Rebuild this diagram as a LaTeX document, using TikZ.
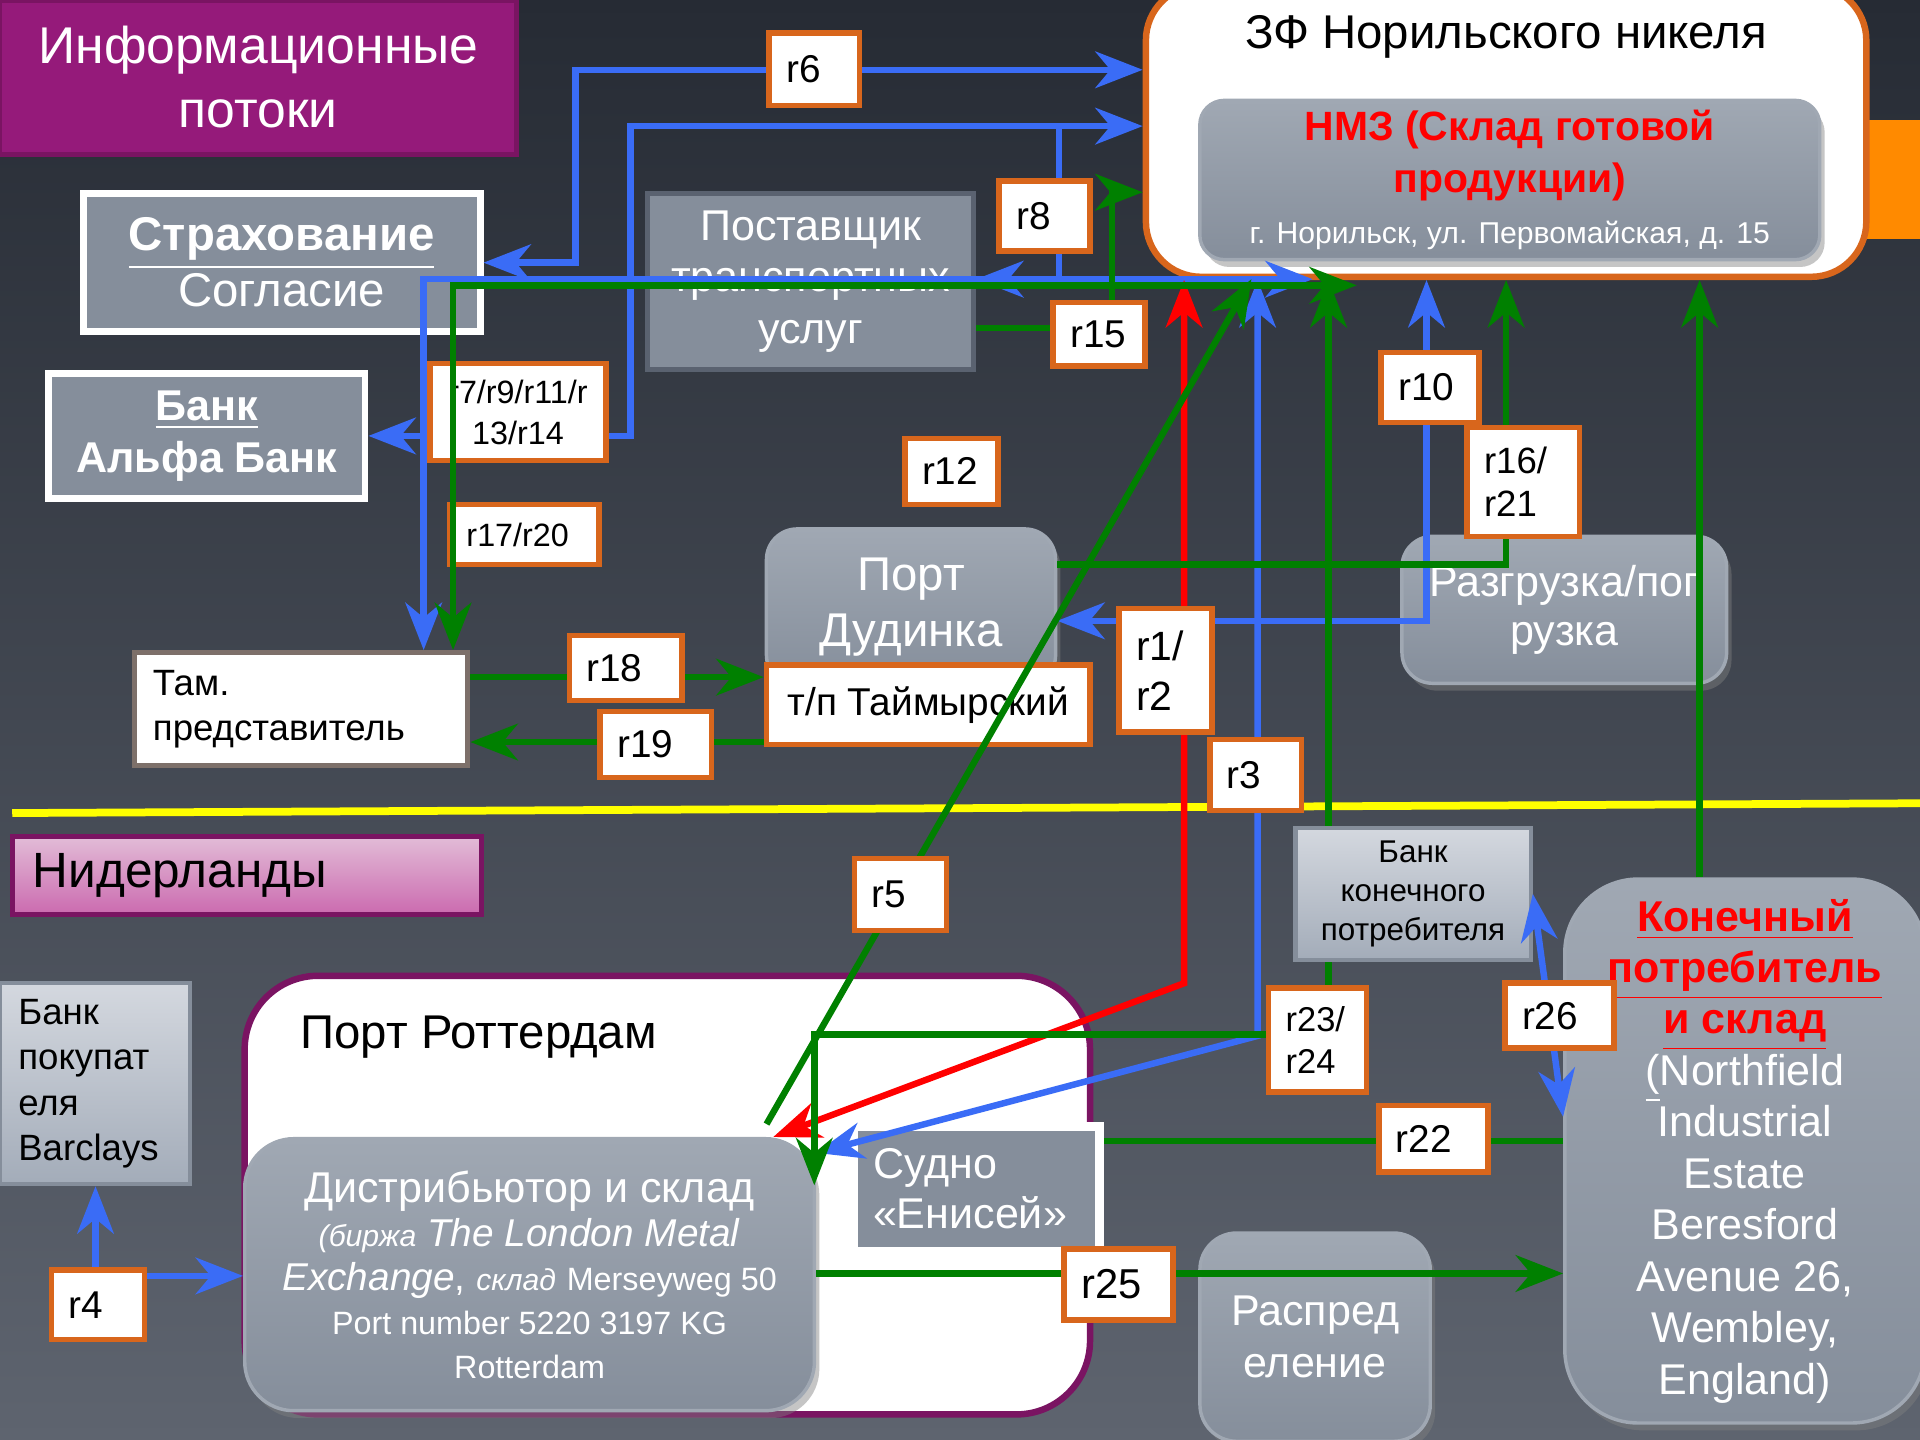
\documentclass[tikz,border=0pt]{standalone}
\usepackage{fontspec}
\setmainfont{Liberation Sans}
\usepackage{tikz}
\usetikzlibrary{arrows.meta, positioning, shadows}
\usepackage{xcolor}

\definecolor{bgtop}{HTML}{262B34}
\definecolor{bgbot}{HTML}{5E646F}
\definecolor{slate}{HTML}{858E9B}
\definecolor{slatehi}{HTML}{A0A8B3}
\definecolor{slateln}{HTML}{5A6270}
\definecolor{pale}{HTML}{D4D8DF}
\definecolor{paledk}{HTML}{A3ACB9}
\definecolor{tagorange}{HTML}{D8661C}
\definecolor{tambrd}{HTML}{7D706A}
\definecolor{infopurple}{HTML}{951A7A}
\definecolor{infoedge}{HTML}{7A1462}
\definecolor{pinkhi}{HTML}{E2BCD7}
\definecolor{pinklo}{HTML}{CB6AAF}
\definecolor{flowblue}{HTML}{3A6CF6}
\definecolor{flowgreen}{HTML}{008000}
\definecolor{flowred}{HTML}{FF0000}
\definecolor{sideorange}{HTML}{FF8A00}
\definecolor{border}{HTML}{FFFF00}

\begin{document}
\begin{tikzpicture}[x=0.01cm, y=-0.01cm, >={Stealth[length=11pt, width=8.5pt, inset=3.5pt]}]

			% Define style for boxes
			\tikzstyle{flatbox} = [rectangle, draw=slateln, line width=1.2pt, fill=slate,
								text=white, align=center, inner sep=0pt]
			\tikzstyle{roundbox} = [rectangle, rounded corners=0.25cm, draw=slatehi, line width=0.8pt,
								top color=slatehi, bottom color=slate, text=white, align=center, inner sep=0pt,
								drop shadow={shadow xshift=0.04cm, shadow yshift=-0.06cm, opacity=0.45}]
			\tikzstyle{palebox} = [rectangle, draw=slate, line width=1pt, top color=pale,
								bottom color=paledk, text=black, inner sep=0pt]
			\tikzstyle{tag} = [rectangle, draw=tagorange, line width=1.3pt, fill=white, text=black,
								inner xsep=0.14cm, inner ysep=0pt, align=left, font=\fontsize{9}{11}\selectfont]

			% Define style for arrows
			\tikzstyle{blueline} = [draw=flowblue, line width=1.5pt]
			\tikzstyle{greenline} = [draw=flowgreen, line width=1.5pt]
			\tikzstyle{redline} = [draw=flowred, line width=1.5pt]

			% Background
			\shade[top color=bgtop, middle color=bgtop, bottom color=bgbot] (0,0) rectangle (1568,1176);
			\useasboundingbox (0,0) rectangle (1568,1176);
			\draw[border, line width=1.8pt] (10,664) -- (1568,656);

			% Place nodes
			\node[rectangle, draw=infoedge, line width=1.2pt, fill=infopurple, text=white, align=center,
				minimum width=4.22cm, minimum height=1.26cm, font=\fontsize{12}{15}\selectfont] (info) at (211,63) {\raisebox{-4pt}{Информационные}\\\raisebox{-4pt}{потоки}};
			\node[flatbox, draw=white, line width=1.6pt, minimum width=3.24cm, minimum height=1.13cm,
				font=\fontsize{11}{13}\selectfont] (strah) at (230,214.5) {\textbf{\underline{Страхование}}\\Согласие};
			\node[flatbox, draw=white, line width=1.6pt, minimum width=2.58cm, minimum height=1.02cm,
				font=\bfseries\fontsize{10}{12}\selectfont] (bankA) at (169,356) {\underline{Банк}\\Альфа Банк};
			\node[flatbox, minimum width=2.66cm, minimum height=1.44cm,
				font=\fontsize{10}{12}\selectfont] (postav) at (662,230) {Поставщик\\транспортных\\услуг};

			\fill[sideorange] (1524,98) rectangle (1568,195);
			\node[rectangle, rounded corners=0.45cm, draw=tagorange, line width=1.5pt, fill=white,
				minimum width=5.88cm, minimum height=2.38cm] (zf) at (1230,107) {};
			\node[font=\fontsize{11}{13}\selectfont, text=black] (zftitle) at (1230,30) {ЗФ Норильского никеля};
			\node[roundbox, rounded corners=0.2cm, minimum width=5.06cm, minimum height=1.30cm,
				font=\fontsize{9.5}{12}\selectfont] (nmz) at (1233,147)
				{\textcolor{flowred}{\bfseries НМЗ (Склад готовой}\\\textcolor{flowred}{\bfseries продукции)}\\{\fontsize{7}{9}\selectfont г. Норильск, ул. Первомайская, д. 15}};

			\node[roundbox, minimum width=2.36cm, minimum height=1.28cm,
				font=\fontsize{11}{13}\selectfont] (dud) at (744,496) {Порт\\Дудинка};
			\node[rectangle, draw=tagorange, line width=1.3pt, fill=white, minimum width=2.64cm, minimum height=0.65cm,
				font=\fontsize{9}{11}\selectfont] (tp) at (758,575.5) {т/п Таймырский};
			\node[roundbox, minimum width=2.65cm, minimum height=1.20cm,
				font=\fontsize{10}{11.5}\selectfont] (razg) at (1277.5,498) {Разгрузка/пог\\рузка};
			\node[rectangle, draw=tambrd, line width=1.2pt, fill=white, text width=2.42cm, inner xsep=0.15cm,
				minimum height=0.92cm, align=left, font=\fontsize{8.5}{10.5}\selectfont] (tam) at (246,579) {Там.\\представитель};

			\node[rectangle, draw=infoedge, line width=1.2pt, top color=pinkhi, bottom color=pinklo, text width=3.49cm,
				inner xsep=0.17cm, minimum height=0.64cm, align=left, font=\fontsize{11.5}{13}\selectfont] (nid) at (201.5,715) {Нидерланды};
			\node[palebox, text width=1.25cm, inner xsep=0.15cm, minimum height=1.64cm, align=left,
				font=\fontsize{8.5}{10.5}\selectfont] (barc) at (77.5,885) {Банк\\покупат\\еля\\Barclays};

			\node[rectangle, rounded corners=0.6cm, draw=infoedge, line width=1.5pt, fill=white,
				minimum width=6.90cm, minimum height=3.58cm] (rott) at (545,976) {};
			\node[anchor=west, font=\fontsize{11}{13}\selectfont] (rotttitle) at (233,847) {Порт Роттердам};
			\node[roundbox, rounded corners=0.4cm, minimum width=4.65cm, minimum height=2.22cm,
				font=\fontsize{9}{10.2}\selectfont] (distr) at (432.5,1041)
				{{\fontsize{10}{12}\selectfont Дистрибьютор и склад}\\
				{\itshape\fontsize{7}{9}\selectfont (биржа} \textit{The London Metal}\\
				\textit{Exchange}, {\itshape\fontsize{7}{9}\selectfont склад} {\fontsize{7.5}{9}\selectfont Merseyweg 50}\\
				{\fontsize{7.5}{9}\selectfont Port number 5220 3197 KG}\\
				{\fontsize{7.5}{9}\selectfont Rotterdam}};
			\node[flatbox, draw=white, line width=2pt, text width=1.69cm, inner xsep=0.16cm, minimum height=1.02cm,
				align=left, font=\fontsize{10}{11.7}\selectfont] (sudno) at (797.5,971) {Судно\\«Енисей»};

			\node[palebox, minimum width=1.92cm, minimum height=1.08cm, align=center,
				font=\fontsize{7.3}{9}\selectfont] (bankK) at (1154,730) {Банк\\конечного\\потребителя};
			\node[roundbox, rounded corners=0.6cm, minimum width=2.94cm, minimum height=4.44cm,
				font=\fontsize{10}{11.95}\selectfont] (kon) at (1425,940)
				{\textcolor{flowred}{\bfseries\underline{Конечный}}\\\textcolor{flowred}{\bfseries\underline{потребитель}}\\
				\textcolor{flowred}{\bfseries\underline{и склад}}\\\underline{(}Northfield\\Industrial\\Estate\\Beresford\\
				Avenue 26,\\Wembley,\\England)};
			\node[roundbox, rounded corners=0.3cm, minimum width=1.88cm, minimum height=1.70cm,
				font=\fontsize{10}{12}\selectfont] (raspr) at (1074,1092) {Распред\\еление};

			% Junction points
			\coordinate (c6) at (665,57);
			\coordinate (j8) at (865,103);
			\coordinate (jb) at (346,228);
			\coordinate (zb) at (1072,228);
			\coordinate (j10) at (1165,507);
			\coordinate (j23) at (1027,846);
			\coordinate (jr) at (967,803);
			\coordinate (j4) at (78,1042);
			\coordinate (j15) at (908,268);
			\coordinate (j15b) at (908,157);
			\coordinate (jg) at (370,233);
			\coordinate (zg) at (1108,233);
			\coordinate (j16) at (1230,461);
			\coordinate (j23g) at (1085,845);
			\coordinate (j23h) at (665,845);
			\coordinate (j23i) at (665,968);
			\coordinate (c22) at (1170,932);
			\coordinate (c25) at (913,1040);
			\coordinate (gk) at (1388,718);
			\coordinate (c18) at (511,553);
			\coordinate (c19) at (535,606);
			\coordinate (g5s) at (626,918);
			\coordinate (g5e) at (1022,228);

			% Draw edges
			\draw[blueline, <->] (strah.east) -| (470,57) -- (zf.west |- c6);
			\draw[blueline, <->] (bankA.east) -| (515,103) -- (zf.west |- j8);
			\draw[blueline, ->] (j8) -- (j8 |- jb) -- (postav.east |- jb);
			\draw[blueline, <->] (tam.north -| jb) -- (jb) -- (zb);
			\draw[blueline, <->] (j10 -| dud.east) -- (j10) -- (j10 |- zf.south);
			\draw[blueline, <->] ([yshift=-0.13cm]distr.north east) -- (j23) -- (j23 |- zf.south);
			\draw[blueline, <->] (bankK.east) -- ([yshift=0.28cm]kon.west);
			\draw[blueline, <->] (j4 |- barc.south) -- (j4) -- (j4 -| distr.west);

			\draw[redline, <->] ([xshift=-0.35cm]distr.north east) -- (jr) -- (jr |- zf.south);

			\draw[greenline, ->] (j15 -| postav.east) -- (j15) -- (j15b) -- (j15b -| zf.west);
			\draw[greenline, ->] (j16 -| dud.east) -- (j16) -- (j16 |- zf.south);
			\draw[greenline, ->] (g5s) -- (g5e);
			\draw[greenline, ->] (bankK.north -| j23g) -- (j23g |- zf.south);
			\draw[greenline, ->] (bankK.south -| j23g) -- (j23g) -- (j23h) -- (j23i);
			\draw[greenline] (sudno.east |- c22) -- (kon.west |- c22);
			\draw[greenline, ->] (distr.east |- c25) -- (kon.west |- c25);
			\draw[greenline, ->] (kon.north -| gk) -- (gk |- zf.south);
			\draw[greenline, ->] (tam.east |- c18) -- (tp.west |- c18);
			\draw[greenline, ->] (tp.west |- c19) -- (tam.east |- c19);

			% Labels under the customs line
			\node[tag, text width=1.24cm, inner xsep=0.1cm, minimum height=0.79cm, align=center,
				font=\fontsize{7.5}{9.5}\selectfont] (r7) at (423,336.5) {r7/r9/r11/r\\13/r14};
			\node[tag, text width=0.94cm, minimum height=0.49cm, font=\fontsize{7.5}{9}\selectfont] (r17) at (428,436.5) {r17/r20};
			\draw[greenline, <->] (tam.north -| jg) -- (jg) -- (zg);

			% Labels
			\node[tag, text width=0.46cm, minimum height=0.59cm] (r6) at (665,56.5) {r6};
			\node[tag, text width=0.46cm, minimum height=0.57cm] (r8) at (853,176.5) {r8};
			\node[tag, text width=0.47cm, minimum height=0.52cm] (r15) at (897.5,273) {r15};
			\node[tag, text width=0.48cm, minimum height=0.54cm] (r12) at (777,385) {r12};
			\node[tag, text width=0.52cm, minimum height=0.57cm] (r10) at (1168,316.5) {r10};
			\node[tag, text width=0.64cm, minimum height=0.89cm, font=\fontsize{8.5}{10}\selectfont] (r16) at (1244,393.5) {r16/\\r21};
			\node[tag, text width=0.64cm, minimum height=0.53cm] (r18) at (511,545.5) {r18};
			\node[tag, text width=0.63cm, minimum height=0.54cm] (r19) at (535.5,608) {r19};
			\node[tag, text width=0.48cm, minimum height=1.01cm, font=\fontsize{9.5}{11.7}\selectfont] (r1) at (952,547.5) {r1/\\r2};
			\node[tag, text width=0.47cm, minimum height=0.58cm] (r3) at (1025.5,633) {r3};
			\node[tag, text width=0.47cm, minimum height=0.59cm] (r5) at (735.5,730.5) {r5};
			\node[tag, text width=0.52cm, minimum height=0.85cm, font=\fontsize{8}{9.7}\selectfont] (r23) at (1076,849.5) {r23/\\r24};
			\node[tag, text width=0.61cm, minimum height=0.53cm] (r26) at (1273.5,829.5) {r26};
			\node[tag, text width=0.61cm, minimum height=0.54cm] (r22) at (1170.5,930) {r22};
			\node[tag, text width=0.61cm, minimum height=0.58cm, font=\fontsize{9.7}{11}\selectfont] (r25) at (913.5,1049) {r25};
			\node[tag, text width=0.48cm, minimum height=0.57cm] (r4) at (80,1065.5) {r4};
		\end{tikzpicture}
\end{document}
